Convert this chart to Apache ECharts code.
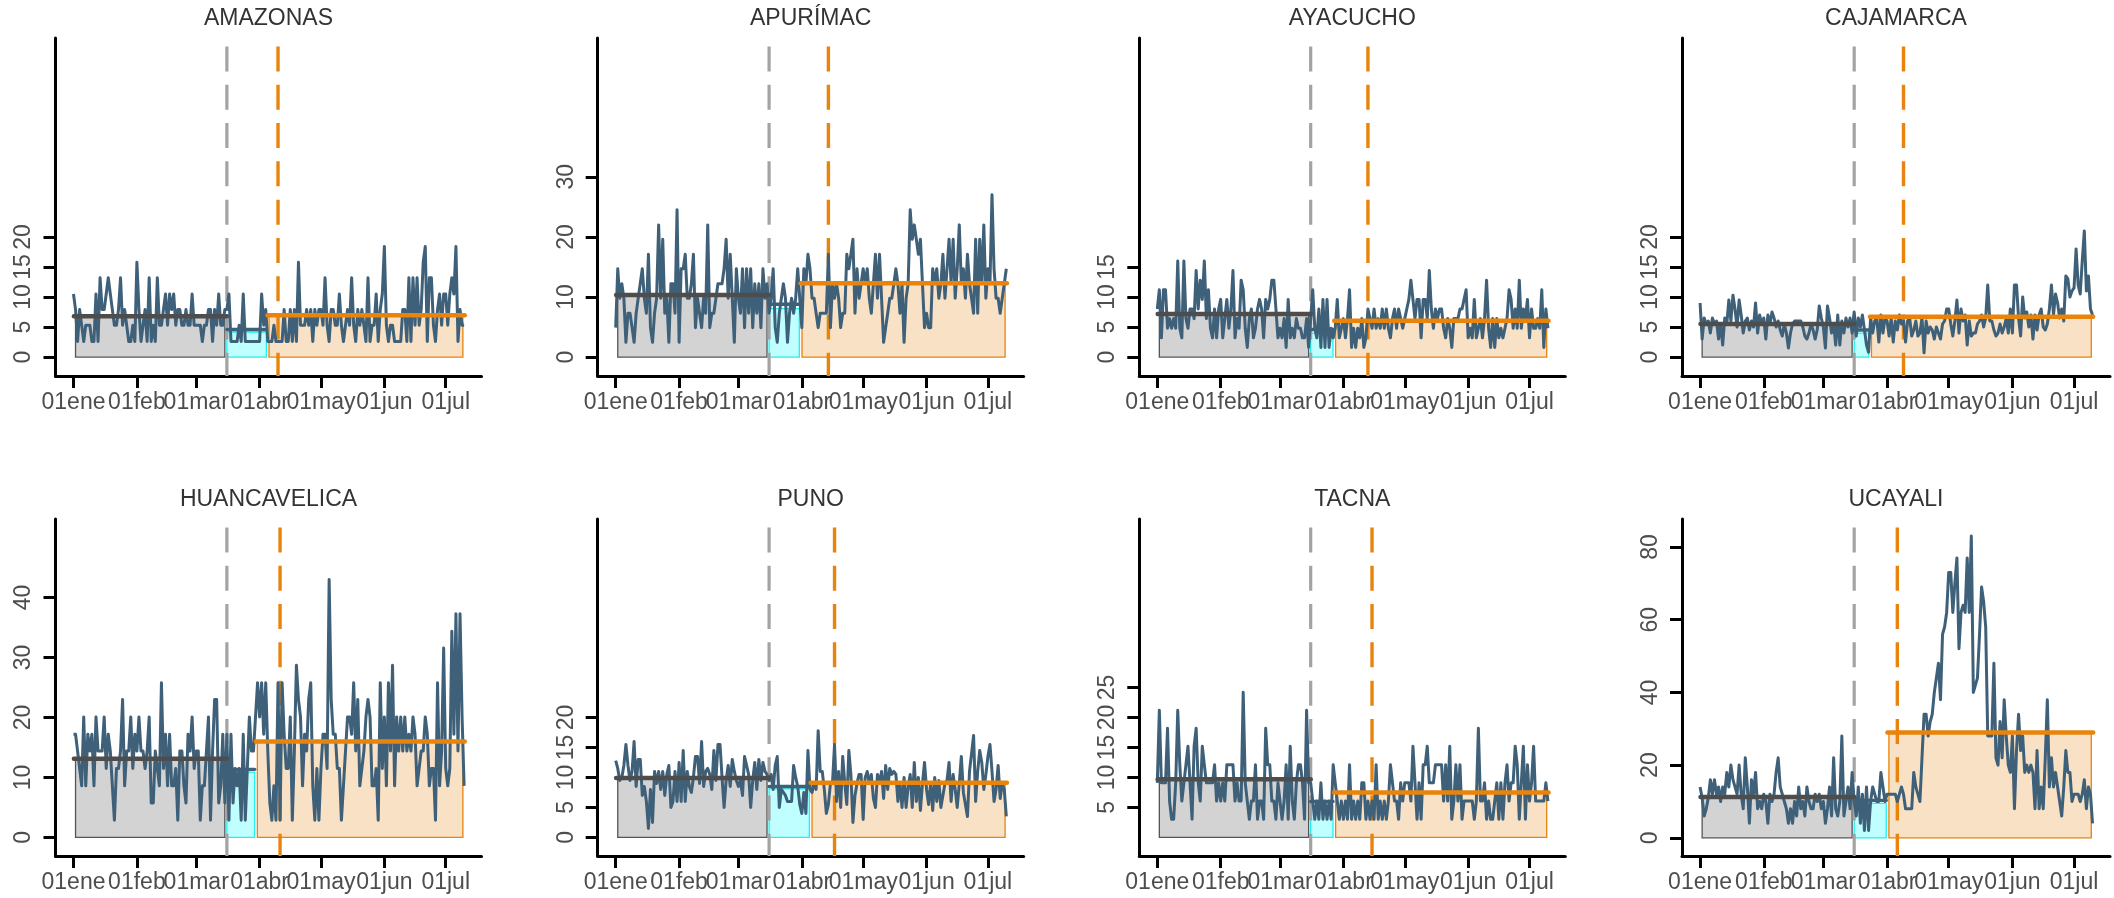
<!DOCTYPE html>
<html>
<head>
<meta charset="utf-8">
<script src="https://cdn.jsdelivr.net/npm/echarts@6/dist/echarts.min.js"></script>
<style>
html,body{margin:0;padding:0;background:#ffffff;}
#chart{width:2114px;height:898px;}
</style>
</head>
<body>
<div id="chart"></div>
<script>
// ---------- data ----------
const regions = ['AMAZONAS', 'APURÍMAC', 'AYACUCHO', 'CAJAMARCA', 'HUANCAVELICA', 'PUNO', 'TACNA', 'UCAYALI'];

// day index 0 = 01 ene (2020), ticks at the first day of each month
const monthTickDays = [0, 31, 60, 91, 121, 152, 182];
const monthTickLabels = ['01ene', '01feb', '01mar', '01abr', '01may', '01jun', '01jul'];

const yTickValues = [
  [0, 5, 10, 15, 20],
  [0, 10, 20, 30],
  [0, 5, 10, 15],
  [0, 5, 10, 15, 20],
  [0, 10, 20, 30, 40],
  [0, 5, 10, 15, 20],
  [5, 10, 15, 20, 25],
  [0, 20, 40, 60, 80]
];

const lockdownDay = 75;                                    // 16 mar
const cyanEndDay = [94.3, 89.8, 85.9, 82.1, 88.6, 94.7, 85.9, 90.6];
const orangeMarkDay = [100, 104, 103, 99, 101, 107, 105, 96];

const meanBefore = [6.78, 10.33, 7.17, 5.5, 13.1, 9.92, 9.72, 11.2];
const meanCyanRect = [4.17, 8.05, 4.0, 4.0, 10.9, 8.1, 5.3, 9.45];
const meanCyanLine = [4.6, 8.8, 4.6, 4.5, 11.35, 8.5, 6.0, 10.3];
const meanAfter = [6.95, 12.3, 6.06, 6.72, 16.0, 9.13, 7.5, 29.0];

const amazonas = [
  10.5, 7.9, 2.6, 7.9, 5.3, 2.6, 5.3, 5.3, 5.3, 2.6, 2.6, 10.5, 2.6, 13.2, 7.9, 7.9, 10.5, 13.2, 10.5, 7.9, 5.3, 5.3, 7.9, 13.2, 5.3, 7.9, 5.3, 2.6, 2.6, 5.3, 2.6,
  15.8, 7.9, 2.6, 5.3, 7.9, 2.6, 13.2, 2.6, 5.3, 2.6, 13.2, 5.3, 5.3, 7.9, 10.5, 5.3, 10.5, 7.9, 10.5, 5.3, 7.9, 7.9, 5.3, 5.3, 7.9, 5.3, 5.3, 10.5, 5.3,
  5.3, 5.3, 5.3, 2.6, 5.3, 5.3, 7.9, 7.9, 2.6, 7.9, 5.3, 10.5, 5.3, 5.3, 7.9, 7.9, 10.5, 2.6, 2.6, 2.6, 2.6, 5.3, 2.6, 10.5, 2.6, 2.6, 2.6, 2.6, 2.6, 2.6, 2.6,
  2.6, 10.5, 5.3, 7.9, 2.6, 2.6, 2.6, 5.3, 2.6, 2.6, 2.6, 2.6, 7.9, 2.6, 2.6, 7.9, 2.6, 7.9, 2.6, 15.8, 5.3, 5.3, 5.3, 7.9, 5.3, 7.9, 2.6, 7.9, 5.3, 7.9,
  7.9, 5.3, 13.2, 5.3, 2.6, 7.9, 7.9, 5.3, 5.3, 10.5, 5.3, 2.6, 5.3, 7.9, 5.3, 13.2, 5.3, 2.6, 7.9, 5.3, 7.9, 5.3, 2.6, 13.2, 2.6, 5.3, 5.3, 10.5, 2.6, 7.9, 10.5,
  18.4, 5.3, 2.6, 5.3, 5.3, 2.6, 2.6, 2.6, 2.6, 7.9, 7.9, 2.6, 13.2, 2.6, 13.2, 5.3, 13.2, 5.3, 7.9, 15.8, 18.4, 2.6, 13.2, 13.2, 5.3, 2.6, 7.9, 10.5, 5.3, 10.5,
  10.5, 5.3, 10.5, 13.2, 10.5, 18.4, 2.6, 7.9, 5.3, 5.3
];

const apurimac = [
  4.9, 14.7, 9.8, 12.2, 9.8, 2.45, 7.3, 7.3, 4.9, 2.45, 7.3, 9.8, 12.2, 14.7, 9.8, 7.3, 17.1, 4.9, 2.45, 7.3, 9.8, 22, 9.8, 19.6, 7.3, 9.8, 2.45, 12.2, 12.2, 7.3, 24.5,
  2.45, 14.7, 14.7, 17.1, 9.8, 9.8, 12.2, 17.1, 4.9, 9.8, 7.3, 4.9, 9.8, 7.3, 22, 4.9, 7.3, 7.3, 9.8, 12.2, 12.2, 12.2, 14.7, 19.6, 9.8, 17.1, 9.8, 2.45, 14.7,
  9.8, 7.3, 14.7, 4.9, 14.7, 7.3, 14.7, 4.9, 12.2, 7.3, 12.2, 4.9, 14.7, 9.8, 12.2, 7.3, 9.8, 14.7, 4.9, 2.45, 7.3, 9.8, 12.2, 9.8, 2.45, 7.3, 9.8, 7.3, 9.8, 14.7, 9.8,
  4.9, 14.7, 12.2, 17.1, 14.7, 9.8, 9.8, 7.3, 4.9, 7.3, 7.3, 7.3, 7.3, 17.1, 4.9, 12.2, 9.8, 12.2, 9.8, 4.9, 7.3, 7.3, 17.1, 14.7, 17.1, 19.6, 7.3, 14.7, 9.8, 12.2,
  14.7, 12.2, 14.7, 9.8, 7.3, 12.2, 17.1, 9.8, 17.1, 9.8, 2.45, 4.9, 7.3, 9.8, 9.8, 12.2, 14.7, 12.2, 7.3, 12.2, 2.45, 9.8, 12.2, 24.5, 19.6, 22, 19.6, 17.1, 19.6, 12.2, 4.9,
  7.3, 4.9, 4.9, 14.7, 12.2, 14.7, 9.8, 12.2, 17.1, 9.8, 14.7, 19.6, 12.2, 19.6, 9.8, 14.7, 22, 12.2, 14.7, 9.8, 17.1, 12.2, 9.8, 7.3, 19.6, 7.3, 19.6, 12.2, 22, 9.8,
  14.7, 12.2, 27, 14.7, 9.8, 9.8, 7.3, 9.8, 12.2, 14.7
];

const ayacucho = [
  8, 11.2, 3.2, 11.2, 11.2, 4.8, 6.4, 4.8, 6.4, 4.8, 16, 4.8, 3.2, 16, 6.4, 4.8, 8, 8, 6.4, 14.4, 8, 12.8, 9.6, 16, 6.4, 11.2, 4.8, 3.2, 8, 3.2, 8,
  9.6, 3.2, 6.4, 9.6, 4.8, 8, 14.4, 3.2, 6.4, 4.8, 12.8, 11.2, 4.8, 1.6, 6.4, 8, 3.2, 4.8, 8, 9.6, 8, 3.2, 9.6, 8, 9.6, 12.8, 12.8, 8, 3.2,
  4.8, 3.2, 6.4, 1.6, 9.6, 3.2, 4.8, 3.2, 6.4, 4.8, 4.8, 3.2, 3.2, 6.4, 1.6, 6.4, 11.2, 4.8, 3.2, 8, 1.6, 9.6, 1.6, 9.6, 1.6, 4.8, 3.2, 4.8, 9.6, 3.2, 4.8,
  6.4, 3.2, 6.4, 11.2, 1.6, 4.8, 1.6, 4.8, 3.2, 6.4, 1.6, 3.2, 8, 6.4, 4.8, 8, 4.8, 6.4, 4.8, 8, 4.8, 8, 4.8, 3.2, 6.4, 8, 4.8, 8, 6.4, 4.8,
  6.4, 8, 9.6, 12.8, 9.6, 6.4, 9.6, 9.6, 3.2, 9.6, 9.6, 6.4, 14.4, 8, 4.8, 8, 6.4, 8, 8, 4.8, 3.2, 6.4, 4.8, 1.6, 6.4, 6.4, 6.4, 8, 8, 9.6, 11.2,
  3.2, 4.8, 3.2, 9.6, 3.2, 4.8, 6.4, 3.2, 6.4, 12.8, 4.8, 1.6, 6.4, 1.6, 6.4, 3.2, 4.8, 3.2, 4.8, 6.4, 11.2, 9.6, 4.8, 8, 4.8, 12.8, 4.8, 8, 6.4, 9.6,
  3.2, 8, 4.8, 4.8, 6.4, 4.8, 11.2, 1.6, 8, 4.8
];

const cajamarca = [
  9, 3, 6.5, 5.5, 6, 4, 6.5, 5.5, 6, 3, 5.5, 2, 6.5, 5.5, 9.5, 6, 10.3, 8, 5, 9.5, 7, 4, 6, 6.5, 4.5, 6, 5, 9, 4, 7, 5.5,
  6.5, 3, 7, 5.5, 7.5, 6.5, 5, 6, 4.5, 3.5, 5.5, 4, 1.5, 4, 5.5, 6, 6, 6, 6, 5, 3.5, 3, 4, 5.5, 4.5, 3, 4.5, 8.5, 6.5,
  5, 1.5, 8.5, 6.5, 4, 5.5, 2, 7, 2, 6, 4, 6.5, 5, 6.5, 4, 7.5, 3.5, 6.5, 5, 7, 4.5, 2, 0.8, 6.5, 4, 6, 6.5, 2.5, 7, 4, 6.5,
  6, 3.5, 6.5, 2.5, 6, 4.5, 7, 5.5, 6, 2.5, 6, 6.5, 3.5, 4.5, 6, 3.5, 4, 6.5, 0.7, 6, 4, 5, 4.5, 3, 5, 4, 3, 5.5, 6, 8,
  8, 5.5, 3.5, 6, 9.5, 4, 8, 6, 7, 2, 6, 3.5, 4, 4, 5.5, 6, 7, 5, 6.5, 12, 6, 6, 4.5, 3.5, 4, 5.5, 4, 5, 6.5, 4, 8,
  4, 12, 12, 6.5, 3.5, 10, 6.5, 7.5, 5, 7, 3, 7, 4.5, 7, 8, 5, 4.5, 5.5, 8, 12, 7, 10.5, 9, 6.5, 8, 6, 13.5, 13, 10, 11,
  11.5, 18, 12, 10.5, 16, 21, 11, 13.5, 8, 7
];

const huancavelica = [
  17.2, 17.2, 14.4, 11.5, 8.6, 20.1, 8.6, 17.2, 14.4, 17.2, 8.6, 20.1, 14.4, 14.4, 14.4, 20.1, 11.5, 17.2, 14.4, 8.6, 2.87, 11.5, 11.5, 14.4, 23, 8.6, 14.4, 14.4, 20.1, 11.5, 17.2,
  14.4, 20.1, 14.4, 14.4, 11.5, 14.4, 20.1, 5.74, 5.74, 14.4, 11.5, 8.6, 25.8, 11.5, 17.2, 8.6, 17.2, 8.6, 8.6, 11.5, 2.87, 14.4, 14.4, 8.6, 5.74, 17.2, 14.4, 20.1, 11.5,
  14.4, 14.4, 2.87, 8.6, 8.6, 14.4, 20.1, 2.87, 14.4, 23, 23, 5.74, 8.6, 17.2, 5.74, 17.2, 2.87, 17.2, 5.74, 11.5, 8.6, 11.5, 2.87, 17.2, 2.87, 11.5, 20.1, 14.4, 14.4, 20.1, 25.8,
  20.1, 25.8, 17.2, 25.8, 14.4, 5.74, 2.87, 8.6, 2.87, 25.8, 2.87, 25.8, 17.2, 11.5, 11.5, 20.1, 2.87, 14.4, 28.7, 23, 20.1, 8.6, 17.2, 14.4, 23, 25.8, 8.6, 2.87, 11.5, 2.87,
  11.5, 17.2, 17.2, 11.5, 43, 23, 17.2, 17.2, 11.5, 11.5, 2.87, 8.6, 14.4, 20.1, 20.1, 17.2, 25.8, 14.4, 23, 8.6, 11.5, 14.4, 20.1, 23, 20.1, 8.6, 8.6, 11.5, 2.87, 25.8, 11.5,
  20.1, 8.6, 25.8, 14.4, 28.7, 8.6, 20.1, 14.4, 20.1, 14.4, 20.1, 14.4, 17.2, 14.4, 20.1, 17.2, 8.6, 11.5, 14.4, 14.4, 20.1, 17.2, 8.6, 11.5, 11.5, 2.87, 25.8, 8.6, 14.4, 31.6,
  11.5, 8.6, 11.5, 34.4, 17.2, 37.3, 14.4, 37.3, 20.1, 8.6
];

const puno = [
  12.8, 11.5, 9.5, 10, 12, 15.5, 12, 9.5, 11, 16, 8.5, 13, 13, 7, 8.5, 6, 1.5, 8, 2.5, 11, 9, 11, 8, 11, 7, 10.5, 12, 5, 6, 11, 6,
  12.5, 6, 14.5, 6, 11, 8.5, 7.5, 10, 13.5, 13.5, 9, 16, 8.5, 11, 11.5, 10.5, 8, 14.5, 9.5, 15.5, 15.5, 10, 5, 9.5, 12, 8.5, 13, 11, 9.5,
  8.5, 9.5, 7, 13.5, 12, 10.5, 5, 9.5, 12.5, 8, 13, 9.5, 12.5, 11, 10.5, 9.5, 10.5, 8, 12, 13.5, 5, 8, 7.5, 7, 6, 6, 6, 12, 10, 8.5, 5.5,
  4, 7.5, 4, 14.5, 8, 7.5, 9, 8, 17.8, 11, 11, 8, 4, 5.5, 9, 9, 15.5, 6, 11, 5, 13.5, 9, 5.5, 14.5, 10.5, 2.5, 7, 9, 10.5, 10.5,
  3, 10, 11, 9, 10.5, 6.5, 5, 10.5, 9, 11, 6.5, 12, 8, 11.5, 10.5, 11, 10.5, 6, 9, 5, 10, 5, 8.5, 10.5, 5, 12.5, 6, 10, 4.5, 9, 12.5,
  8, 5.5, 9, 4.5, 10, 6, 9.5, 5, 7, 9, 9.5, 12.5, 6, 10.5, 8, 5, 9, 13.5, 7.5, 5.5, 3.5, 11, 14, 17, 6, 11, 14.5, 12.5, 8, 10.5,
  13.5, 15.5, 11, 6, 8, 12, 6.5, 9, 8, 3.5
];

const tacna = [
  9.1, 21.2, 9.1, 9.1, 9.1, 18.2, 6.06, 3.03, 3.03, 9.1, 21.2, 12.1, 6.06, 9.1, 12.1, 15.2, 9.1, 3.03, 15.2, 18.2, 9.1, 6.06, 15.2, 12.1, 9.1, 9.1, 9.1, 9.1, 12.1, 6.06, 9.1,
  6.06, 9.1, 6.06, 12.1, 12.1, 12.1, 12.1, 6.06, 9.1, 6.06, 6.06, 24.2, 9.1, 6.06, 3.03, 6.06, 6.06, 12.1, 3.03, 6.06, 6.06, 3.03, 18.2, 12.1, 12.1, 6.06, 6.06, 3.03, 9.1,
  6.06, 3.03, 6.06, 12.1, 3.03, 15.2, 6.06, 3.03, 9.1, 12.1, 12.1, 9.1, 3.03, 21.2, 9.1, 9.1, 6.06, 3.03, 6.06, 3.03, 9.1, 3.03, 6.06, 3.03, 6.06, 3.03, 12.1, 9.1, 6.06, 3.03, 6.06,
  3.03, 6.06, 3.03, 12.1, 3.03, 6.06, 3.03, 6.06, 3.03, 9.1, 9.1, 3.03, 6.06, 3.03, 6.06, 3.03, 12.1, 3.03, 6.06, 3.03, 6.06, 3.03, 6.06, 12.1, 9.1, 6.06, 6.06, 3.03, 9.1, 6.06,
  9.1, 9.1, 9.1, 6.06, 15.2, 9.1, 3.03, 9.1, 3.03, 12.1, 12.1, 15.2, 9.1, 9.1, 9.1, 12.1, 12.1, 12.1, 12.1, 6.06, 12.1, 6.06, 15.2, 3.03, 6.06, 12.1, 6.06, 12.1, 3.03, 6.06, 6.06,
  6.06, 6.06, 6.06, 3.03, 6.06, 18.2, 6.06, 6.06, 9.1, 3.03, 6.06, 3.03, 3.03, 6.06, 9.1, 3.03, 9.1, 3.03, 9.1, 12.1, 6.06, 9.1, 9.1, 15.2, 12.1, 3.03, 9.1, 15.2, 3.03, 12.1,
  6.06, 9.1, 15.2, 6.06, 6.06, 6.06, 6.06, 6.06, 9.1, 6.06
];

const ucayali = [
  14, 11, 6, 8, 11, 16, 12, 16, 12, 14, 10, 14, 12, 18, 14, 20, 16, 14, 12, 20, 12, 8, 22, 14, 4, 16, 12, 18, 8, 10, 8,
  12, 10, 4, 12, 10, 12, 18, 22, 14, 12, 10, 8, 4, 8, 4, 10, 6, 14, 8, 10, 6, 14, 10, 8, 8, 12, 10, 12, 8,
  10, 4, 8, 14, 6, 22, 8, 6, 10, 28, 6, 10, 14, 8, 18, 10, 6, 14, 4, 12, 2, 14, 2, 10, 14, 12, 10, 10, 18, 14, 10,
  12, 12, 12, 12, 12, 10, 12, 14, 12, 8, 8, 8, 8, 18, 14, 12, 10, 22, 34, 34, 28, 32, 34, 40, 44, 48, 38, 56, 58, 62,
  73, 73, 62, 70, 77, 52, 62, 64, 62, 77, 62, 83, 40, 42, 44, 56, 69, 65, 58, 28, 28, 28, 48, 22, 20, 32, 22, 38, 28, 20, 18,
  28, 8, 24, 34, 24, 28, 18, 20, 18, 20, 18, 8, 24, 8, 14, 8, 22, 38, 14, 22, 14, 18, 14, 10, 6, 14, 24, 18, 18, 10,
  12, 12, 12, 10, 12, 16, 8, 14, 12, 4
];

const regionValues = [amazonas, apurimac, ayacucho, cajamarca, huancavelica, puno, tacna, ucayali];

// ---------- layout / style ----------
const colLeft = [55.5, 597.7, 1139.3, 1682];
const colWidth = [426, 426, 426, 428];
const rowTop = [38, 519];
const rowHeight = [338, 337];
const yRange = [
  [-3.15, 53.1], [-3.15, 53.1], [-3.15, 53.1], [-3.15, 53.1],
  [-3.1, 53.1], [-3.1, 53.1], [-3.1, 53.1], [-5.0, 87.7]
];
const xMin = -8.8, xMax = 199.5;

const C = {
  line: '#3f6079',
  grayRect: '#d3d3d3',
  grayBorder: '#555555',
  grayMean: '#4d4d4d',
  grayDash: '#a3a3a3',
  cyanFill: '#bfffff',
  cyanBorder: '#1ff0f0',
  orange: '#e8830c',
  orangeFill: '#f8e1c5',
  text: '#4d4d4d',
  title: '#333333'
};
const FONT = '"Liberation Sans", Arial, Helvetica, sans-serif';
const FS = 23;

const grids = [], xAxes = [], yAxes = [], series = [], titles = [];

regions.forEach((name, i) => {
  const col = i % 4, row = Math.floor(i / 4);
  const vals = regionValues[i];
  const lastDay = vals.length - 1;
  const [yMin, yMax] = yRange[i];
  const dashTop = yMax - (yMax - yMin) * 0.025;

  grids.push({ left: colLeft[col], top: rowTop[row], width: colWidth[col], height: rowHeight[row], containLabel: false });

  titles.push({
    text: name,
    left: colLeft[col] + colWidth[col] / 2,
    top: row === 0 ? 18.5 : 499.8,
    textAlign: 'center',
    textVerticalAlign: 'middle',
    padding: 0,
    textStyle: { fontFamily: FONT, fontSize: FS, fontWeight: 'normal', color: C.title }
  });

  xAxes.push({
    gridIndex: i, type: 'value', min: xMin, max: xMax,
    axisLine: { onZero: false, lineStyle: { color: '#000', width: 3 } },
    axisTick: { customValues: monthTickDays, length: 12, lineStyle: { color: '#000', width: 3 } },
    axisLabel: {
      customValues: monthTickDays, margin: 15,
      fontFamily: FONT, fontSize: FS, color: C.text,
      formatter: v => monthTickLabels[monthTickDays.indexOf(v)] || ''
    },
    splitLine: { show: false }
  });

  yAxes.push({
    gridIndex: i, type: 'value', min: yMin, max: yMax,
    axisLine: { onZero: false, lineStyle: { color: '#000', width: 3 } },
    axisTick: { customValues: yTickValues[i], length: 12, lineStyle: { color: '#000', width: 3 } },
    axisLabel: {
      customValues: yTickValues[i], rotate: 90, margin: 20,
      align: 'center', verticalAlign: 'bottom',
      fontFamily: FONT, fontSize: FS, color: C.text
    },
    splitLine: { show: false }
  });

  const ce = cyanEndDay[i];
  // rectangles (period means)
  series.push({
    type: 'line', xAxisIndex: i, yAxisIndex: i, data: [], silent: true, z: 1,
    markArea: {
      silent: true,
      data: [
        [{ coord: [1, 0], itemStyle: { color: C.grayRect, borderColor: C.grayBorder, borderWidth: 1.3 } }, { coord: [lockdownDay - 1, meanBefore[i]] }],
        [{ coord: [lockdownDay, 0], itemStyle: { color: C.cyanFill, borderColor: C.cyanBorder, borderWidth: 1.3 } }, { coord: [ce, meanCyanRect[i]] }],
        [{ coord: [ce + 1.3, 0], itemStyle: { color: C.orangeFill, borderColor: C.orange, borderWidth: 1.3 } }, { coord: [lastDay - 0.6, meanAfter[i]] }]
      ]
    }
  });

  // vertical dashed lines
  series.push({
    type: 'line', xAxisIndex: i, yAxisIndex: i, symbol: 'none', silent: true, z: 2,
    data: [[lockdownDay, dashTop], [lockdownDay, yMin]],
    lineStyle: { color: C.grayDash, width: 3.2, type: [25, 13.3] }
  });
  series.push({
    type: 'line', xAxisIndex: i, yAxisIndex: i, symbol: 'none', silent: true, z: 2,
    data: [[orangeMarkDay[i], dashTop], [orangeMarkDay[i], yMin]],
    lineStyle: { color: C.orange, width: 3.4, type: [25, 13.3] }
  });

  // daily series
  series.push({
    type: 'line', xAxisIndex: i, yAxisIndex: i, symbol: 'none', silent: true, z: 3,
    data: vals.map((v, d) => [d, v]),
    lineStyle: { color: C.line, width: 3, join: 'round' }
  });

  // mean lines
  series.push({
    type: 'line', xAxisIndex: i, yAxisIndex: i, symbol: 'none', silent: true, z: 4,
    data: [[0.2, meanBefore[i]], [lockdownDay, meanBefore[i]]],
    lineStyle: { color: C.grayMean, width: 4.5, cap: 'round' }
  });
  series.push({
    type: 'line', xAxisIndex: i, yAxisIndex: i, symbol: 'none', silent: true, z: 4,
    data: [[lockdownDay, meanCyanLine[i]], [ce, meanCyanLine[i]]],
    lineStyle: { color: C.line, width: 3.4, cap: 'round' }
  });
  series.push({
    type: 'line', xAxisIndex: i, yAxisIndex: i, symbol: 'none', silent: true, z: 4,
    data: [[ce + 0.6, meanAfter[i]], [lastDay + 0.3, meanAfter[i]]],
    lineStyle: { color: C.orange, width: 4.5, cap: 'round' }
  });
});

const chart = echarts.init(document.getElementById('chart'), null, { renderer: 'canvas' });
chart.setOption({
  animation: false,
  backgroundColor: '#ffffff',
  title: titles,
  grid: grids,
  xAxis: xAxes,
  yAxis: yAxes,
  series: series
});
</script>
</body>
</html>
